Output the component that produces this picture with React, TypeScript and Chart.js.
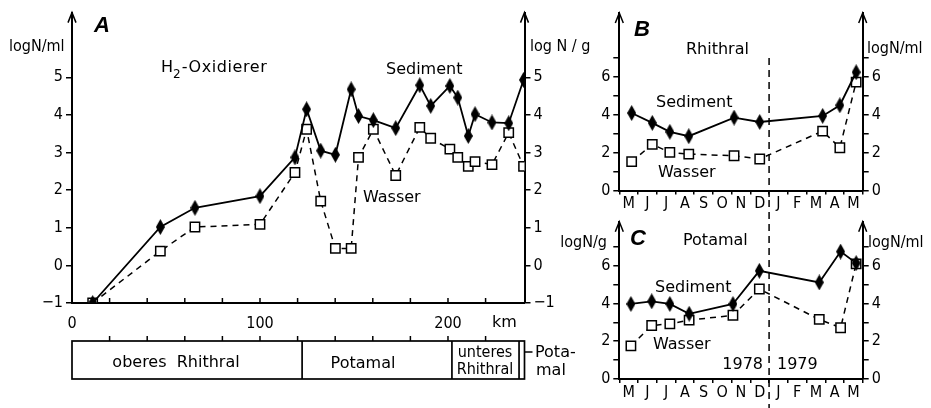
import React, { useEffect, useRef } from 'react';
import { Chart, registerables } from 'chart.js';

Chart.register(...registerables);

// ---------------- Panel A (H2-Oxidierer, km profile) ----------------
const kmA = [11, 47, 65.4, 100, 118.6, 124.8, 132.3, 140.1, 148.5, 152.4, 160.3, 172.2, 185, 190.8, 201, 205.2, 210.8, 214.4, 223.4, 232.3, 240.2];
const sedimentA = [-1, 1.02, 1.53, 1.84, 2.87, 4.15, 3.05, 2.94, 4.68, 3.97, 3.86, 3.65, 4.79, 4.24, 4.77, 4.46, 3.44, 4.02, 3.8, 3.78, 4.93];
const wasserA = [-1, 0.38, 1.02, 1.09, 2.47, 3.62, 1.71, 0.45, 0.45, 2.87, 3.62, 2.39, 3.67, 3.38, 3.09, 2.87, 2.63, 2.76, 2.68, 3.53, 2.63];
const kmTicks = [0, 20, 40, 60, 80, 100, 120, 140, 160, 180, 200, 220, 240];
const kmTickLabels = ['0', '', '', '', '', '100', '', '', '', '', '200', '', ''];
const yTicksA = [-1, 0, 1, 2, 3, 4, 5];
const zoneBounds = [0, 122.4, 202.1, 237.8, 240.7];

// ---------------- Panels B and C (monthly, 1978/1979) ----------------
const months = ['M', 'J', 'J', 'A', 'S', 'O', 'N', 'D', 'J', 'F', 'M', 'A', 'M'];
const tB = [0.66, 1.76, 2.7, 3.71, 6.13, 7.5, 10.86, 11.78, 12.65];
const sedimentB = [4.08, 3.56, 3.09, 2.86, 3.84, 3.61, 3.93, 4.49, 6.23];
const wasserB = [1.52, 2.43, 2.01, 1.92, 1.83, 1.66, 3.13, 2.25, 5.71];
const tC = [0.62, 1.73, 2.7, 3.73, 6.07, 7.48, 10.68, 11.82, 12.65];
const sedimentC = [3.97, 4.11, 3.97, 3.45, 3.97, 5.72, 5.11, 6.74, 6.13];
const wasserC = [1.75, 2.83, 2.92, 3.11, 3.37, 4.76, 3.15, 2.71, 6.09];
const yTicksBC = [0, 1, 2, 3, 4, 5, 6, 7];
const yearBreak = 8;

const FONT = '"DejaVu Sans", sans-serif';
const TICK_FONT = '"DejaVu Sans Condensed", "DejaVu Sans", sans-serif';
const LETTER_FONT = '"Liberation Sans", Arial, sans-serif';

type Txt = { t: string; x: number; y: number; size?: number; font?: string; style?: string; align?: CanvasTextAlign };

function makeDiamond(): HTMLCanvasElement {
  const c = document.createElement('canvas');
  c.width = 9;
  c.height = 16;
  const g = c.getContext('2d')!;
  g.fillStyle = '#000';
  g.beginPath();
  g.moveTo(4.5, 0);
  g.lineTo(9, 8);
  g.lineTo(4.5, 16);
  g.lineTo(0, 8);
  g.closePath();
  g.fill();
  return c;
}

function datasets(xs: number[], sed: number[], was: number[], diamond: HTMLCanvasElement) {
  return [
    {
      label: 'Sediment',
      data: xs.map((x, i) => ({ x, y: sed[i] })),
      borderColor: '#000',
      borderWidth: 1.8,
      pointStyle: diamond as any,
      pointRadius: 6,
      pointBackgroundColor: '#000',
      pointBorderColor: '#000',
      tension: 0,
    },
    {
      label: 'Wasser',
      data: xs.map((x, i) => ({ x, y: was[i] })),
      borderColor: '#000',
      borderWidth: 1.5,
      borderDash: [6, 5],
      pointStyle: 'rect',
      pointRadius: 6.6,
      pointBackgroundColor: '#fff',
      pointBorderColor: '#000',
      pointBorderWidth: 1.5,
      tension: 0,
    },
  ];
}

function drawTexts(ctx: CanvasRenderingContext2D, items: Txt[], ox: number, oy: number) {
  ctx.save();
  ctx.fillStyle = '#000';
  ctx.textBaseline = 'middle';
  for (const it of items) {
    ctx.font = `${it.style ? it.style + ' ' : ''}${it.size || 16}px ${it.font || FONT}`;
    ctx.textAlign = it.align || 'left';
    ctx.fillText(it.t, it.x - ox, it.y - oy);
  }
  ctx.restore();
}

function arrow(ctx: CanvasRenderingContext2D, x: number, y: number) {
  ctx.save();
  ctx.strokeStyle = '#000';
  ctx.lineWidth = 1.5;
  ctx.beginPath();
  ctx.moveTo(x - 4, y + 10);
  ctx.lineTo(x, y);
  ctx.lineTo(x + 4, y + 10);
  ctx.stroke();
  ctx.restore();
}

function fixedTicks(values: number[]) {
  return (s: any) => {
    s.ticks = values.map((v) => ({ value: v }));
  };
}

const tickFont = { family: TICK_FONT, size: 16 };

function buildA(ox: number, oy: number, diamond: HTMLCanvasElement): any {
  const texts: Txt[] = [
    { t: 'A', x: 102, y: 26, size: 22, font: LETTER_FONT, style: 'italic bold', align: 'center' },
    { t: 'logN/ml', x: 9, y: 47, font: TICK_FONT },
    { t: 'log N / g', x: 530, y: 47, font: TICK_FONT },
    { t: 'Sediment', x: 386, y: 70 },
    { t: 'Wasser', x: 363, y: 198 },
    { t: 'km', x: 492, y: 323 },
    { t: 'oberes  Rhithral', x: 176, y: 363, align: 'center' },
    { t: 'Potamal', x: 363, y: 364, align: 'center' },
    { t: 'unteres', x: 485, y: 353, align: 'center', font: TICK_FONT },
    { t: 'Rhithral', x: 485, y: 370, align: 'center', font: TICK_FONT },
    { t: 'Pota-', x: 535, y: 353 },
    { t: 'mal', x: 536, y: 371 },
  ];
  const plugin = {
    id: 'panelA',
    afterDraw(chart: any) {
      const ctx = chart.ctx as CanvasRenderingContext2D;
      const xs = chart.scales.x;
      const area = chart.chartArea;
      arrow(ctx, area.left, area.top);
      arrow(ctx, area.right, area.top);
      ctx.save();
      ctx.strokeStyle = '#000';
      ctx.lineWidth = 1.5;
      for (const k of kmTicks) {
        if (k <= 0 || k >= 240) continue;
        const px = xs.getPixelForValue(k);
        ctx.beginPath();
        ctx.moveTo(px, area.bottom);
        ctx.lineTo(px, area.bottom - 5);
        ctx.stroke();
      }
      const top = 341 - oy;
      const bot = 379 - oy;
      const x0 = xs.getPixelForValue(zoneBounds[0]);
      const x1 = xs.getPixelForValue(zoneBounds[zoneBounds.length - 1]);
      ctx.lineWidth = 1.7;
      ctx.strokeRect(x0, top, x1 - x0, bot - top);
      for (let i = 1; i < zoneBounds.length - 1; i++) {
        const px = xs.getPixelForValue(zoneBounds[i]);
        ctx.beginPath();
        ctx.moveTo(px, top);
        ctx.lineTo(px, bot);
        ctx.stroke();
      }
      ctx.lineWidth = 1.5;
      for (const k of kmTicks) {
        if (k <= 0 || k >= 240) continue;
        const px = xs.getPixelForValue(k);
        ctx.beginPath();
        ctx.moveTo(px, top);
        ctx.lineTo(px, top - 5);
        ctx.stroke();
      }
      ctx.beginPath();
      ctx.moveTo(x1, 352 - oy);
      ctx.lineTo(x1 + 8, 352 - oy);
      ctx.stroke();
      ctx.restore();
      drawTexts(ctx, texts, ox, oy);
      ctx.save();
      ctx.fillStyle = '#000';
      ctx.textBaseline = 'middle';
      ctx.font = `16px ${FONT}`;
      let x = 161 - ox;
      ctx.fillText('H', x, 68 - oy);
      x += ctx.measureText('H').width;
      ctx.font = `12px ${FONT}`;
      ctx.fillText('2', x, 75 - oy);
      x += ctx.measureText('2').width + 1;
      ctx.font = `16px ${FONT}`;
      (ctx as any).letterSpacing = '0.6px';
      ctx.fillText('-Oxidierer', x, 68 - oy);
      ctx.restore();
    },
  };
  const yScale = (position: string) => ({
    type: 'linear',
    position,
    min: -1,
    max: 6.72,
    afterBuildTicks: fixedTicks(yTicksA),
    afterFit: (s: any) => {
      s.width = position === 'left' ? 72 : 75.5;
    },
    grid: { drawOnChartArea: false, drawTicks: true, tickLength: 6, color: '#000', lineWidth: 1.5 },
    border: { display: true, color: '#000', width: 2 },
    ticks: { color: '#000', font: tickFont, padding: 3, callback: (v: number) => String(v).replace('-', '\u2212') },
  });
  return {
    type: 'scatter',
    data: { datasets: datasets(kmA, sedimentA, wasserA, diamond) },
    options: {
      animation: false,
      responsive: false,
      devicePixelRatio: 1,
      showLine: true,
      layout: { padding: { top: 11, bottom: 75, left: 0, right: 0 } },
      plugins: { legend: { display: false }, tooltip: { enabled: false } },
      scales: {
        x: {
          type: 'linear',
          min: 0,
          max: 240.7,
          afterBuildTicks: fixedTicks(kmTicks),
          afterFit: (s: any) => {
            s.height = 30;
          },
          grid: { display: false, drawTicks: false },
          border: { display: true, color: '#000', width: 2 },
          ticks: {
            color: '#000',
            font: tickFont,
            padding: 11,
            maxRotation: 0,
            autoSkip: false,
            callback: (_v: number, i: number) => kmTickLabels[i],
          },
        },
        y: yScale('left'),
        y2: yScale('right'),
      },
    },
    plugins: [plugin],
  };
}

function buildMonthly(
  ox: number,
  oy: number,
  diamond: HTMLCanvasElement,
  xs: number[],
  sed: number[],
  was: number[],
  yMax: number,
  padTop: number,
  padBottom: number,
  xHeight: number,
  texts: Txt[],
  dashTop: number,
  dashBottom: number,
): any {
  const plugin = {
    id: 'panelMonthly',
    afterDraw(chart: any) {
      const ctx = chart.ctx as CanvasRenderingContext2D;
      const area = chart.chartArea;
      arrow(ctx, area.left, area.top);
      arrow(ctx, area.right, area.top);
      const px = chart.scales.x.getPixelForValue(yearBreak);
      ctx.save();
      ctx.strokeStyle = '#000';
      ctx.lineWidth = 1.5;
      ctx.setLineDash([7, 5]);
      ctx.beginPath();
      ctx.moveTo(px, dashTop - oy);
      ctx.lineTo(px, dashBottom - oy);
      ctx.stroke();
      ctx.restore();
      drawTexts(ctx, texts, ox, oy);
    },
  };
  const yScale = (position: string) => ({
    type: 'linear',
    position,
    min: 0,
    max: yMax,
    afterBuildTicks: fixedTicks(yTicksBC),
    afterFit: (s: any) => {
      s.width = position === 'left' ? 619.3 - ox : 931 - 862.7;
    },
    grid: { drawOnChartArea: false, drawTicks: true, tickLength: 6, color: '#000', lineWidth: 1.5 },
    border: { display: true, color: '#000', width: 2 },
    ticks: { color: '#000', font: tickFont, padding: 3, callback: (v: number) => (v % 2 === 0 ? String(v) : '') },
  });
  const slot = (862.7 - 619.3) / 13;
  return {
    type: 'scatter',
    data: { datasets: datasets(xs, sed, was, diamond) },
    options: {
      animation: false,
      responsive: false,
      devicePixelRatio: 1,
      showLine: true,
      layout: { padding: { top: padTop, bottom: padBottom, left: 0, right: 0 } },
      plugins: { legend: { display: false }, tooltip: { enabled: false } },
      scales: {
        x: {
          type: 'linear',
          min: 0,
          max: 13,
          afterBuildTicks: fixedTicks(months.map((_m, i) => i).concat([13])),
          afterFit: (s: any) => {
            s.height = xHeight;
          },
          grid: { drawOnChartArea: false, drawTicks: true, tickLength: 4, color: '#000', lineWidth: 1.5 },
          border: { display: true, color: '#000', width: 2 },
          ticks: {
            color: '#000',
            font: { family: TICK_FONT, size: 16 },
            padding: 0,
            labelOffset: slot / 2,
            maxRotation: 0,
            autoSkip: false,
            callback: (_v: number, i: number) => months[i] || '',
          },
        },
        y: yScale('left'),
        y2: yScale('right'),
      },
    },
    plugins: [plugin],
  };
}

function Panel({ left, top, width, height, build }: { left: number; top: number; width: number; height: number; build: (ox: number, oy: number, d: HTMLCanvasElement) => any }) {
  const ref = useRef<HTMLCanvasElement>(null);
  useEffect(() => {
    const chart = new Chart(ref.current!, build(left, top, makeDiamond()));
    return () => chart.destroy();
  }, []);
  return <canvas ref={ref} width={width} height={height} style={{ position: 'absolute', left, top, width, height }} />;
}

export default function App() {
  const textsB: Txt[] = [
    { t: 'B', x: 642, y: 30, size: 22, font: LETTER_FONT, style: 'italic bold', align: 'center' },
    { t: 'Rhithral', x: 686, y: 50 },
    { t: 'Sediment', x: 656, y: 103 },
    { t: 'Wasser', x: 658, y: 173 },
    { t: 'logN/ml', x: 867, y: 49, font: TICK_FONT },
  ];
  const textsC: Txt[] = [
    { t: 'C', x: 638, y: 239, size: 22, font: LETTER_FONT, style: 'italic bold', align: 'center' },
    { t: 'Potamal', x: 683, y: 241 },
    { t: 'Sediment', x: 655, y: 288 },
    { t: 'Wasser', x: 653, y: 345 },
    { t: '1978', x: 763, y: 365, align: 'right' },
    { t: '1979', x: 777, y: 365 },
    { t: 'logN/g', x: 607, y: 243, align: 'right', font: TICK_FONT },
    { t: 'logN/ml', x: 868, y: 243, font: TICK_FONT },
  ];
  return (
    <div style={{ position: 'fixed', left: 0, top: 0, width: 931, height: 408, background: '#fff', overflow: 'hidden' }}>
      <Panel left={0} top={0} width={600} height={408} build={(ox, oy, d) => buildA(ox, oy, d)} />
      <Panel
        left={560}
        top={0}
        width={371}
        height={212}
        build={(ox, oy, d) => buildMonthly(ox, oy, d, tB, sedimentB, wasserB, 9.35, 13, 0, 212 - 190.5, textsB, 58, 200)}
      />
      <Panel
        left={560}
        top={200}
        width={371}
        height={208}
        build={(ox, oy, d) => buildMonthly(ox, oy, d, tC, sedimentC, wasserC, 8.32, 21.7, 0, 208 - 179, textsC, 200, 408)}
      />
    </div>
  );
}
